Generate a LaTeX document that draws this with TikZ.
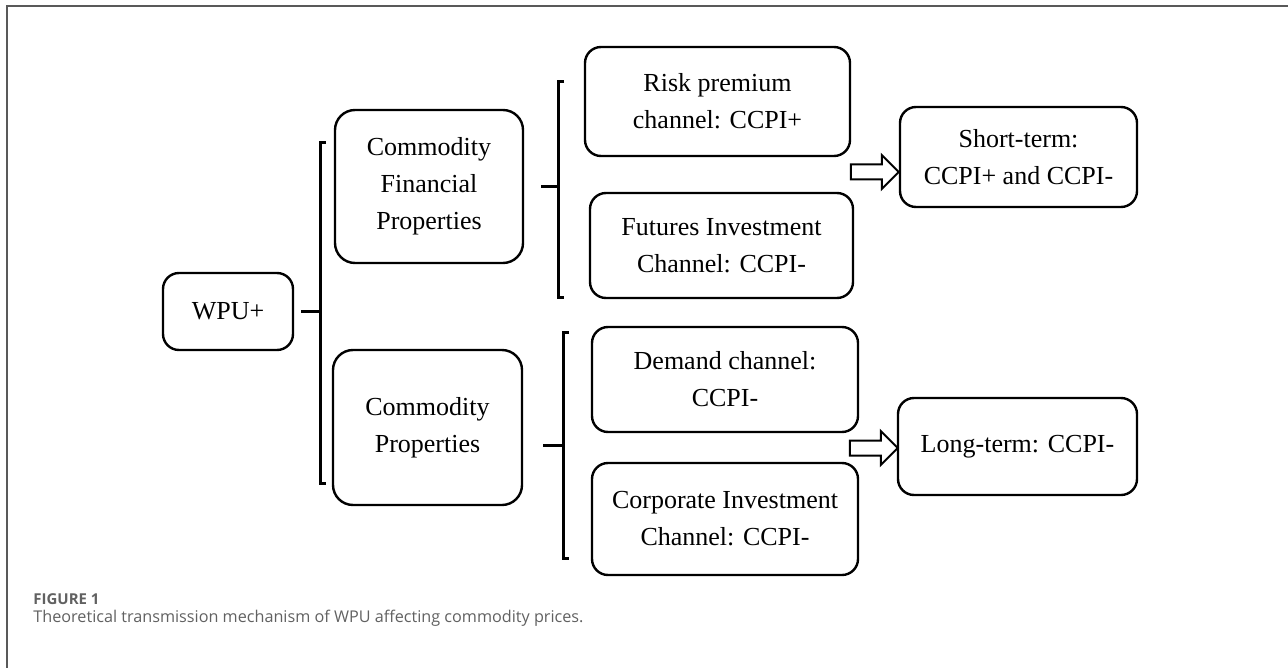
\documentclass[tikz,border=0pt]{standalone}
\usepackage{fontspec}
\setmainfont{Liberation Serif}
\newfontfamily\capfont{Open Sans}
\usetikzlibrary{shapes.arrows}
\definecolor{framegray}{rgb}{0.35,0.35,0.35}
\definecolor{capgray}{rgb}{0.38,0.38,0.38}

\tikzset{
  box/.style={draw,rounded corners=8pt,line width=1.2pt,align=center,
    font=\fontsize{13}{18.5}\selectfont,inner sep=2pt},
  brace/.style={line width=1.5pt},
  fatarrow/.style={draw,single arrow,line width=1pt,minimum height=24pt,
    inner xsep=0pt,inner ysep=3.25pt,single arrow head extend=4.75pt,
    single arrow head indent=0pt}
}

\begin{document}
\begin{tikzpicture}[x=0.5pt,y=-0.5pt]

  \useasboundingbox (0,0) rectangle (1288,668);

  % frame of the figure
  \draw[framegray,line width=1pt] (7,668) -- (7,6) -- (1288,6);

  \node[box,minimum width=65pt,minimum height=38.5pt] (wpu) at (228,311.5) {WPU+};

  \node[box,rounded corners=10pt,minimum width=94pt,minimum height=76.5pt] (cfp) at (429,186.5)
    {Commodity\\Financial\\Properties};
  \node[box,rounded corners=10pt,minimum width=94.5pt,minimum height=77.5pt] (cp) at (427.5,427.5)
    {Commodity\\Properties};

  \node[box,minimum width=132.5pt,minimum height=54.5pt] (risk) at (717.5,101.5)
    {Risk premium\\channel: CCPI+};
  \node[box,minimum width=131.5pt,minimum height=52.5pt] (fut) at (721.5,245.5)
    {Futures Investment\\Channel: CCPI-};
  \node[box,minimum width=133pt,minimum height=52.5pt] (dem) at (725,379.5)
    {Demand channel:\\CCPI-};
  \node[box,minimum width=133pt,minimum height=56pt] (corp) at (725,519)
    {Corporate Investment\\Channel: CCPI-};

  \node[box,minimum width=118.5pt,minimum height=50pt] (short) at (1018.5,157)
    {Short-term:\\CCPI+ and CCPI-};
  \node[box,minimum width=119.5pt,minimum height=48.5pt] (long) at (1017.5,446.5)
    {Long-term: CCPI-};

  % hollow arrows
  \node[fatarrow] (a1) at (871,172) {};
  \node[fatarrow] (a2) at (870,448) {};

  % brackets
  \coordinate (b1t) at (320,143);
  \coordinate (b1b) at (320,483);
  \coordinate (b2t) at (558,82);
  \coordinate (b2b) at (558,297);
  \coordinate (b3t) at (563,332);
  \coordinate (b3b) at (563,558);
  \coordinate (s3) at (543,445);

  \draw[brace] ([xshift=3pt]b1t) -- (b1t) -- (b1b) -- ([xshift=3pt]b1b);
  \draw[brace] ([xshift=3pt]b2t) -- (b2t) -- (b2b) -- ([xshift=3pt]b2b);
  \draw[brace] ([xshift=3pt]b3t) -- (b3t) -- (b3b) -- ([xshift=3pt]b3b);

  \draw[brace,shorten <=3.5pt] (wpu) -- (wpu -| b1t);
  \draw[brace,shorten <=8.5pt] (cfp) -- (cfp -| b2t);
  \draw[brace] (s3) -- (s3 -| b3t);

  % caption
  \node[anchor=base west,inner sep=0pt,text=capgray,
    font=\capfont\bfseries\fontsize{7.5}{9}\selectfont] (fignum) at (33,604) {FIGURE 1};
  \node[anchor=base west,inner sep=0pt,text=capgray,
    font=\capfont\fontsize{8.1}{10}\selectfont] (caption) at (33,622)
    {Theoretical transmission mechanism of WPU affecting commodity prices.};

\end{tikzpicture}
\end{document}
